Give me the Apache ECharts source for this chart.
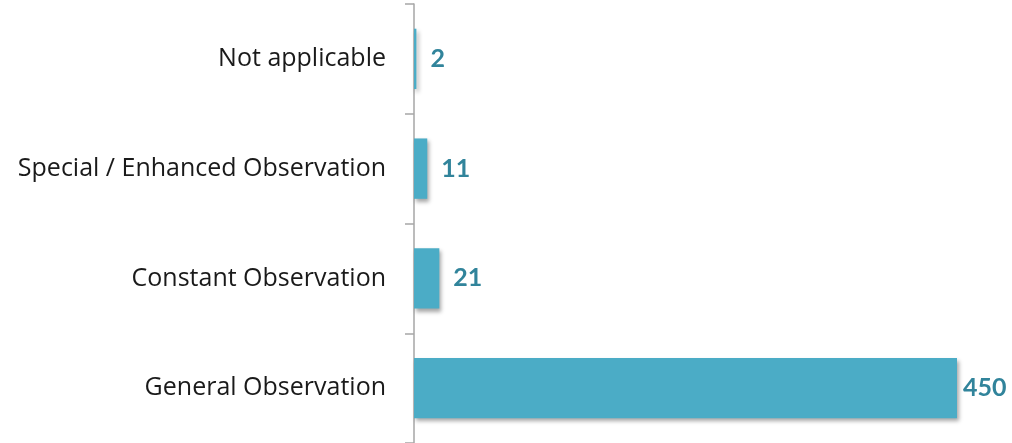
<!DOCTYPE html>
<html>
<head>
<meta charset="utf-8">
<script src="https://cdn.jsdelivr.net/npm/echarts@6/dist/echarts.min.js"></script>
<style>
  html, body { margin: 0; padding: 0; background: #fff; }
  #chart { width: 1012px; height: 443px; }
</style>
</head>
<body>
<div id="chart"></div>
<script>
// Observation levels, listed bottom to top
const categories = [
  'General Observation',
  'Constant Observation',
  'Special / Enhanced Observation',
  'Not applicable'
];
const counts = [450, 21, 11, 2];

const LABEL_FONT = '"Open Sans", Lato, sans-serif';
const VALUE_FONT = 'Lato, "Open Sans", sans-serif';
const chart = echarts.init(document.getElementById('chart'), null, { renderer: 'canvas' });

chart.setOption({
  animation: false,
  grid: { left: 414, top: 4, width: 543, height: 439, containLabel: false },
  xAxis: {
    type: 'value',
    min: 0,
    max: 450,
    show: false
  },
  yAxis: {
    type: 'category',
    data: categories,
    axisLine: { show: true, lineStyle: { color: '#a6a6a6', width: 1.5 } },
    axisTick: { show: true, length: 9, lineStyle: { color: '#a6a6a6', width: 1.5 } },
    axisLabel: {
      margin: 28,
      fontFamily: LABEL_FONT,
      fontSize: 25,
      color: '#1a1a1a',
      padding: [4, 0, 0, 0]
    },
    splitLine: { show: false }
  },
  series: [{
    type: 'bar',
    barWidth: '55%',
    data: counts.map((v, i) => i === 0 ? { value: v, label: { distance: 6 } } : v),
    itemStyle: {
      color: '#4bacc6',
      shadowColor: 'rgba(0,0,0,0.35)',
      shadowBlur: 4,
      shadowOffsetX: 2,
      shadowOffsetY: 3
    },
    label: {
      show: true,
      position: 'right',
      distance: 14,
      fontFamily: VALUE_FONT,
      fontWeight: 'bold',
      fontSize: 25,
      color: '#31849b'
    }
  }]
});
</script>
</body>
</html>
